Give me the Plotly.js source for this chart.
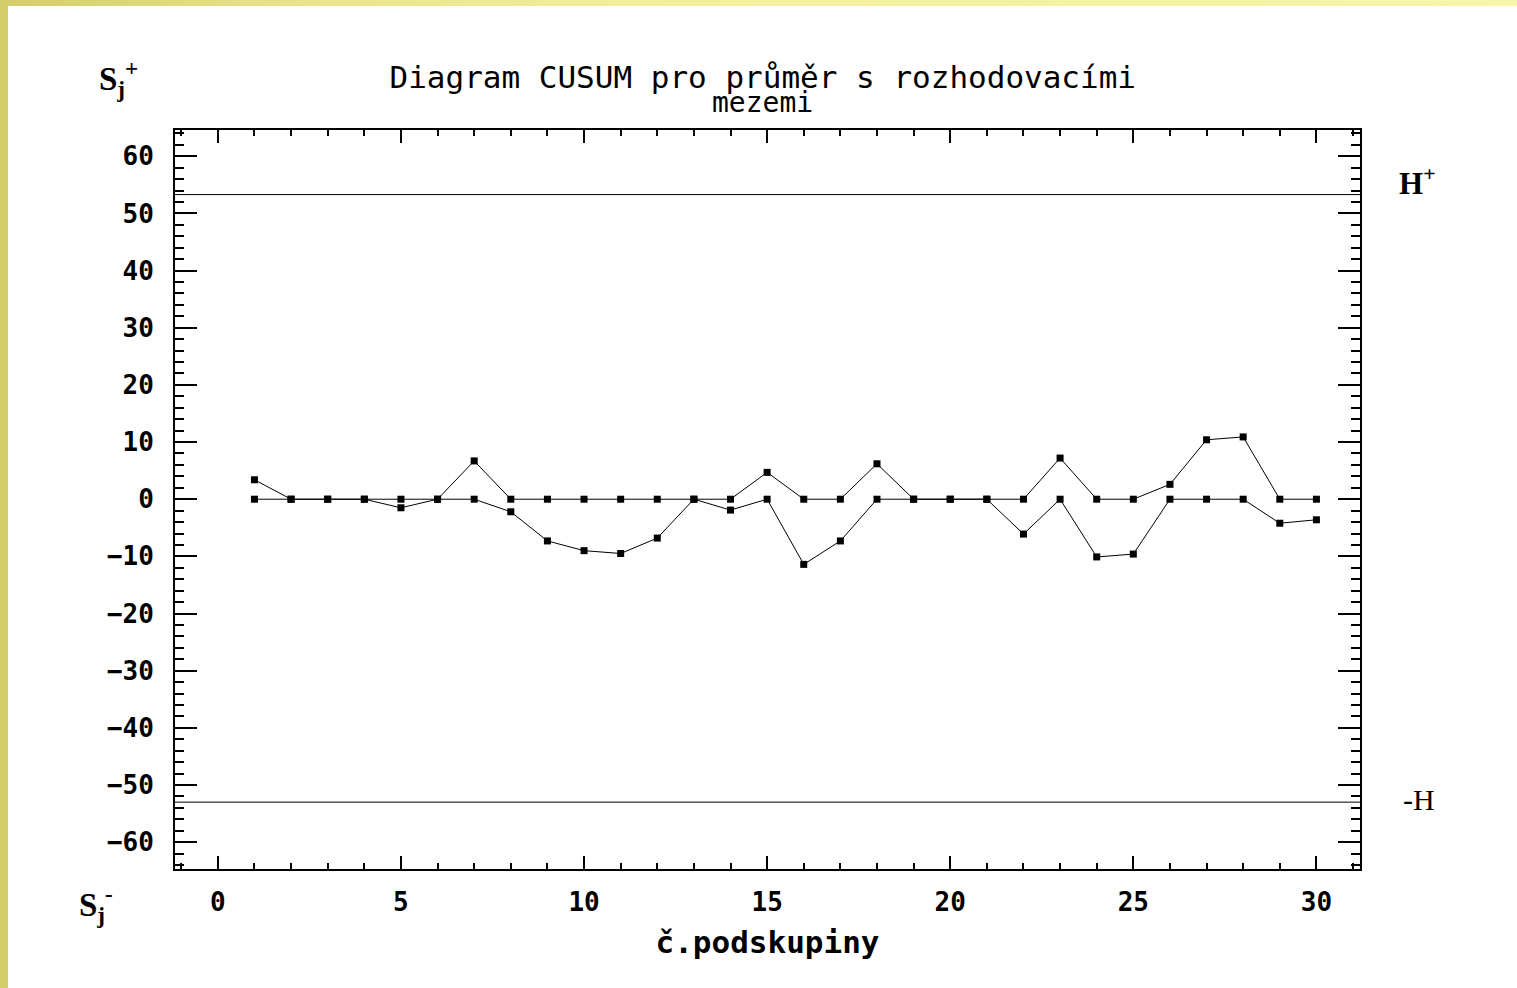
<!DOCTYPE html>
<html>
<head>
<meta charset="utf-8">
<script src="https://cdn.plot.ly/plotly-3.0.1.min.js"></script>
<style>
  html, body { margin: 0; padding: 0; width: 1517px; height: 988px; overflow: hidden;
    background: linear-gradient(to right, #d5cd6b 0%, #e9e48c 20%, #f3ef9d 45%, #f8f5ac 100%); }
  #chart { position: absolute; left: 8px; top: 6px; width: 1509px; height: 982px; background: #ffffff; }
</style>
</head>
<body>
<div id="chart"></div>
<script>
// subgroup numbers (x)
const podskupiny = [1,2,3,4,5,6,7,8,9,10,11,12,13,14,15,16,17,18,19,20,21,22,23,24,25,26,27,28,29,30];
// upper CUSUM S_j+
const sPlus  = [3.4,0,0,0,0,0,6.7,0,0,0,0,0,0,0,4.7,0,0,6.2,0,0,0,0,7.2,0,0,2.6,10.4,10.9,0,0];
// lower CUSUM S_j-
const sMinus = [0,0,0,0,-1.5,0,0,-2.2,-7.3,-9.0,-9.5,-6.8,0,-1.9,0,-11.4,-7.3,0,0,0,0,-6.1,0,-10.1,-9.6,0,0,0,-4.2,-3.6];
// decision limits
const hPlus = 53.3;
const hMinus = -53.0;

const titleLine1 = 'Diagram CUSUM pro průměr s rozhodovacími';
const titleLine2 = 'mezemi';
const xTitle = 'č.podskupiny';

const mono = 'DejaVu Sans Mono, Liberation Mono, monospace';
const serif = 'Liberation Serif, DejaVu Serif, serif';

const markerStyle = {symbol: 'square', size: 7, color: '#000'};
const traces = [
  {x: podskupiny, y: sPlus, mode: 'lines+markers', name: 'S+',
   line: {color: '#000', width: 1}, marker: markerStyle, showlegend: false},
  {x: podskupiny, y: sMinus, mode: 'lines+markers', name: 'S-',
   line: {color: '#000', width: 1}, marker: markerStyle, showlegend: false}
];

const layout = {
  width: 1509, height: 982,
  paper_bgcolor: '#ffffff', plot_bgcolor: '#ffffff',
  margin: {l: 167, r: 157, t: 124, b: 119, pad: 0},
  showlegend: false,
  title: {text: titleLine1, x: 0.496, xref: 'paper', xanchor: 'center',
          y: 0.9275, yref: 'container', yanchor: 'middle',
          font: {family: mono, size: 31, color: '#000'}},
  xaxis: {
    range: [-1.17, 31.19], tick0: 0, dtick: 5,
    ticks: 'inside', ticklen: 13, tickwidth: 1.5, tickcolor: '#000',
    minor: {dtick: 1, ticks: 'inside', ticklen: 6, tickwidth: 1.5, tickcolor: '#000', showgrid: false},
    showline: true, linecolor: '#000', linewidth: 2, mirror: 'allticks',
    showgrid: false, zeroline: false,
    tickfont: {family: mono, size: 26, color: '#000', weight: 'bold'},
    ticklabelstandoff: 9,
    title: {text: xTitle, standoff: 15, font: {family: mono, size: 31, color: '#000', weight: 'bold'}}
  },
  yaxis: {
    range: [-64.7, 64.6], tick0: 0, dtick: 10,
    ticks: 'inside', ticklen: 22, tickwidth: 1.5, tickcolor: '#000',
    minor: {dtick: 2, ticks: 'inside', ticklen: 9, tickwidth: 1.5, tickcolor: '#000', showgrid: false},
    showline: true, linecolor: '#000', linewidth: 2, mirror: 'allticks',
    showgrid: false, zeroline: false,
    tickfont: {family: mono, size: 26, color: '#000', weight: 'bold'},
    ticklabelstandoff: 14
  },
  shapes: [
    {type: 'line', xref: 'paper', x0: 0, x1: 1, yref: 'y', y0: hPlus, y1: hPlus, line: {color: '#000', width: 1}},
    {type: 'line', xref: 'paper', x0: 0, x1: 1, yref: 'y', y0: hMinus, y1: hMinus, line: {color: '#000', width: 1}}
  ],
  annotations: [
    {text: titleLine2, xref: 'paper', yref: 'paper', x: 0.496, y: 1.037, xanchor: 'center', yanchor: 'middle',
     showarrow: false, font: {family: mono, size: 28, color: '#000'}},
    {text: '<b>S<sub>j</sub><sup>+</sup></b>', xref: 'paper', yref: 'paper', x: -0.066, y: 1.07, xanchor: 'left', yanchor: 'middle',
     showarrow: false, font: {family: serif, size: 33, color: '#000'}},
    {text: '<b>S<sub>j</sub><sup>-</sup></b>', xref: 'paper', yref: 'paper', x: -0.083, y: -0.048, xanchor: 'left', yanchor: 'middle',
     showarrow: false, font: {family: serif, size: 33, color: '#000'}},
    {text: '<b>H<sup>+</sup></b>', xref: 'paper', yref: 'paper', x: 1.031, y: 0.93, xanchor: 'left', yanchor: 'middle',
     showarrow: false, font: {family: serif, size: 31, color: '#000'}},
    {text: '-H', xref: 'paper', yref: 'paper', x: 1.035, y: 0.094, xanchor: 'left', yanchor: 'middle',
     showarrow: false, font: {family: serif, size: 30, color: '#000'}}
  ]
};

Plotly.newPlot('chart', traces, layout, {displayModeBar: false, responsive: false});
</script>
</body>
</html>
